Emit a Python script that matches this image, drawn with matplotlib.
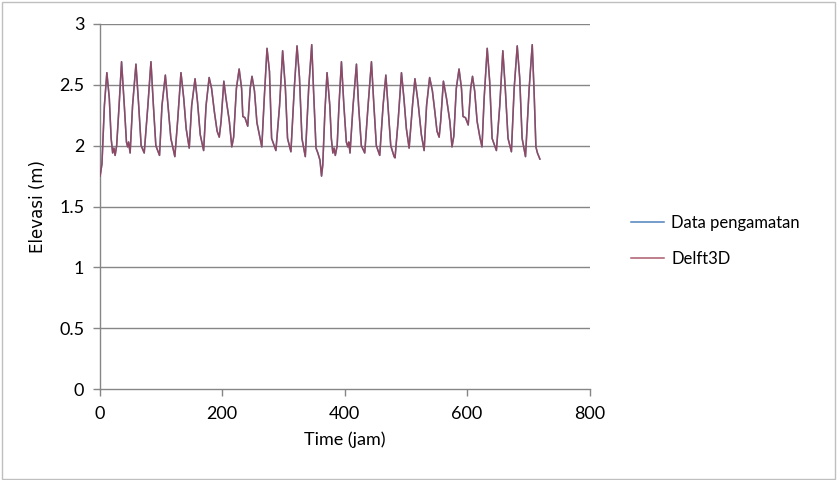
import matplotlib
matplotlib.use('Agg')
import matplotlib.pyplot as plt
from matplotlib.patches import Rectangle

time_jam = [
    1, 4, 8, 12, 16, 19, 21.5, 23.5, 25.5, 28, 32, 36, 40.5, 44, 46, 47.5, 50, 54, 59.5, 64,
    68, 73, 79, 84, 88, 92, 98, 102, 107.5, 111.5, 116.5, 123, 127.5, 133, 137.5, 141.5, 146.5,
    150.5, 156, 160, 164.5, 170, 174, 179, 183, 187.5, 192, 195.5, 198.5, 203, 206.5, 212, 216,
    219, 223.5, 228, 232, 234, 237.5, 242, 246, 249, 253, 257, 261, 265, 269, 273.5, 277.5, 281,
    288, 294, 299, 303.5, 307, 312.5, 318, 322.5, 326.5, 330.5, 336, 341.5, 346.5, 349.5, 353.5,
    356.5, 360, 362.5,
    364.5, 368, 371.5, 376, 378.5, 381, 383, 385, 388, 391, 395, 399, 403, 405.5, 407, 409, 414,
    419.5, 423, 427.5, 433, 438.5, 444, 448, 452, 457.5, 463, 467.5, 471, 475.5, 481, 482.5,
    487.5, 493, 497, 501, 505.5, 511, 515, 520, 525.5, 530, 534, 539, 543.5, 547.5, 551, 554.5,
    557, 561.5, 566.5, 572, 575.5, 578.5, 582.5, 587, 591, 593.5, 597.5, 602, 606, 609, 612.5,
    616.5, 621, 624.5, 628, 633, 637, 641, 648, 653.5, 658.5, 662.5, 667, 672.5, 677, 682, 686,
    690, 695.5, 701.5, 706.5, 709.5, 712.5, 715, 719,
]

elev_pengamatan = [
    1.75, 1.85, 2.33, 2.60, 2.39, 2.06, 1.94, 1.98, 1.92, 2.00, 2.33, 2.69, 2.33, 2.03, 1.99, 2.03,
    1.94, 2.33, 2.67, 2.33, 2.00, 1.94, 2.33, 2.69, 2.33, 2.00, 1.92, 2.33, 2.58, 2.35, 2.06, 1.91,
    2.20, 2.60, 2.39, 2.14, 1.98, 2.33, 2.55, 2.36, 2.09, 1.96, 2.33, 2.56, 2.47, 2.28, 2.12, 2.07,
    2.20, 2.53, 2.39, 2.20, 1.99, 2.07, 2.47, 2.63, 2.47, 2.24, 2.23, 2.16, 2.47, 2.57, 2.45, 2.19,
    2.09, 1.99, 2.39, 2.80, 2.61, 2.06, 1.96, 2.33, 2.78, 2.47, 2.06, 1.95, 2.47, 2.82, 2.56, 2.06,
    1.91, 2.47, 2.83, 2.45, 1.98, 1.94, 1.88, 1.75,
    1.84, 2.28, 2.60, 2.33, 2.06, 1.94, 1.98, 1.92, 2.00, 2.33, 2.69, 2.33, 2.03, 1.99, 2.03, 1.94,
    2.33, 2.67, 2.33, 2.00, 1.94, 2.33, 2.69, 2.33, 2.00, 1.92, 2.33, 2.58, 2.33, 2.00, 1.91, 1.90,
    2.20, 2.60, 2.39, 2.14, 1.98, 2.33, 2.55, 2.36, 2.09, 1.96, 2.33, 2.56, 2.45, 2.28, 2.12, 2.07,
    2.20, 2.53, 2.39, 2.20, 1.99, 2.08, 2.47, 2.63, 2.47, 2.24, 2.23, 2.17, 2.47, 2.57, 2.45, 2.20,
    2.07, 1.99, 2.39, 2.80, 2.53, 2.06, 1.96, 2.33, 2.78, 2.47, 2.06, 1.95, 2.47, 2.82, 2.56, 2.06,
    1.91, 2.47, 2.83, 2.45, 1.99, 1.94, 1.89,
]

elev_delft3d = list(elev_pengamatan)

y_ticks = [0, 0.5, 1, 1.5, 2, 2.5, 3]
y_tick_labels = ['0', '0.5', '1', '1.5', '2', '2.5', '3']
x_ticks = [0, 200, 400, 600, 800]
x_tick_labels = ['0', '200', '400', '600', '800']

FONT = ['Lato', 'DejaVu Sans']
plt.rcParams['font.family'] = FONT

fig = plt.figure(figsize=(8.38, 4.80), dpi=100)
fig.patches.append(Rectangle((0.002, 0.003), 0.995, 0.993, transform=fig.transFigure,
                             fill=False, edgecolor='#bfbfbf', linewidth=1.0))

ax = fig.add_axes([99.5 / 838, 1 - 389 / 480, 490 / 838, 365 / 480])

grid_color = '#868686'
ax.set_ylim(0, 3)
ax.set_xlim(0, 800)
ax.set_yticks(y_ticks)
ax.set_yticklabels(y_tick_labels)
ax.set_xticks(x_ticks)
ax.set_xticklabels(x_tick_labels)
for yv in y_ticks[1:]:
    ax.axhline(yv, color=grid_color, linewidth=1.0, zorder=1)

for s in ['top', 'right']:
    ax.spines[s].set_visible(False)
for s in ['left', 'bottom']:
    ax.spines[s].set_color(grid_color)
    ax.spines[s].set_linewidth(1.0)

ax.tick_params(axis='both', direction='out', length=5, width=1.0, color=grid_color,
               labelsize=13, labelcolor='#000000')
ax.tick_params(axis='y', pad=6)
ax.tick_params(axis='x', pad=7)

l1, = ax.plot(time_jam, elev_pengamatan, color='#4F81BD', linewidth=1.1, zorder=3,
              label='Data pengamatan')
l2, = ax.plot(time_jam, elev_delft3d, color='#9C3F52', linewidth=1.1, alpha=0.85, zorder=4,
              label='Delft3D')

ax.set_xlabel('Time (jam)', fontsize=13, labelpad=7)
ax.set_ylabel('Elevasi (m)', fontsize=12, family=['DejaVu Sans'], labelpad=9)

leg = fig.legend(handles=[l1, l2], labels=['Data pengamatan', 'Delft3D'],
                 loc='center left', bbox_to_anchor=(616 / 838, 1 - 241 / 480),
                 frameon=False, fontsize=12, handlelength=2.0, handletextpad=0.4,
                 labelspacing=1.2)

fig.savefig('out.png', dpi=100)
